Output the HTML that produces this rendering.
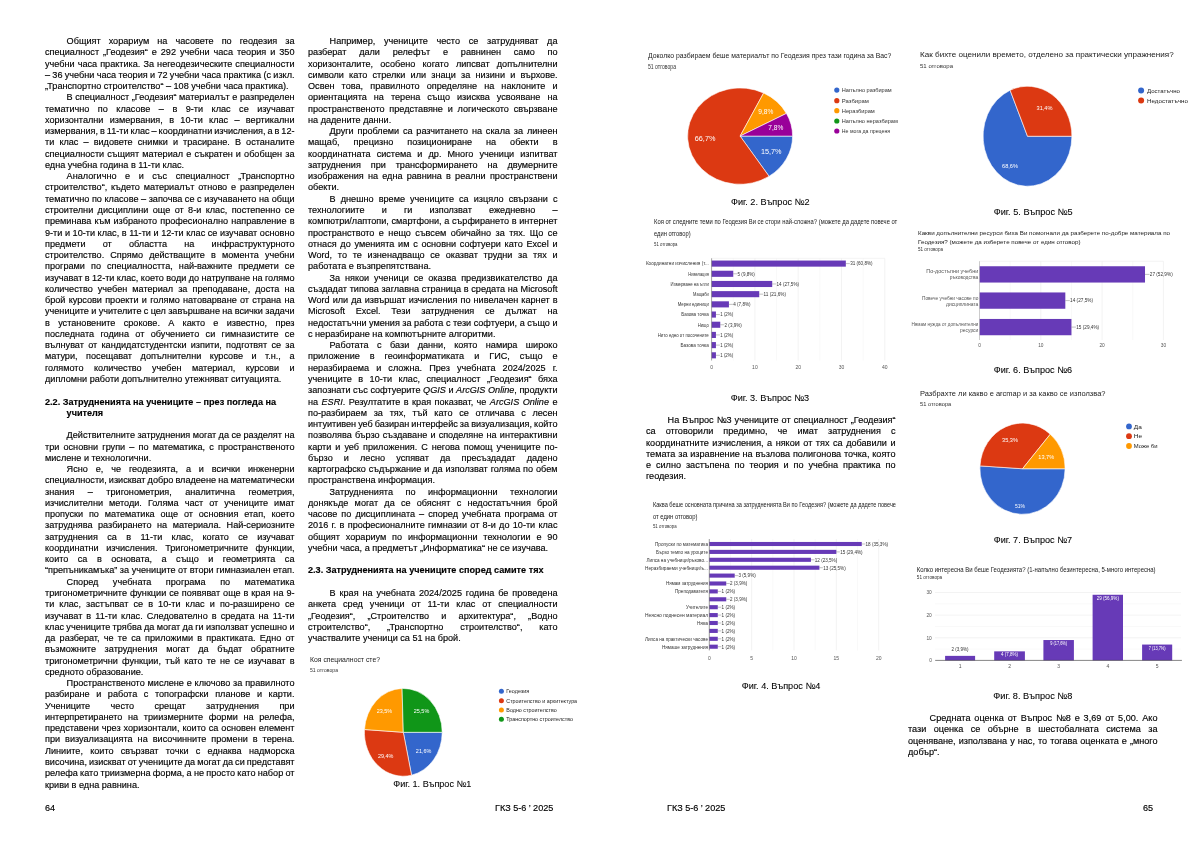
<!DOCTYPE html>
<html><head><meta charset="utf-8"><style>
html,body{margin:0;padding:0;background:#fff}
body{width:1200px;height:849px;position:relative;overflow:hidden;font-family:"Liberation Sans",sans-serif;color:#000;-webkit-text-stroke:0.15px #000}
.col{position:absolute;will-change:transform;width:249.5px;font-size:9.12px;line-height:11.28px}
.ln{height:11.28px;white-space:nowrap}
.b{font-weight:bold}
.t{position:absolute;will-change:transform;font-size:9.12px;line-height:11.28px;white-space:nowrap}
svg{position:absolute;left:0;top:0;-webkit-text-stroke:0;will-change:transform}
</style></head><body>
<div class="col" style="left:45.2px;top:35.9px">
<div class="ln" style="padding-left:21.6px;word-spacing:5.543px;">Общият хорариум на часовете по геодезия за</div>
<div class="ln" style="word-spacing:1.451px;">специалност „Геодезия“ е 292 учебни часа теория и 350</div>
<div class="ln" style="word-spacing:0.544px;">учебни часа практика. За негеодезическите специалности</div>
<div class="ln" style="word-spacing:-0.234px;">– 36 учебни часа теория и 72 учебни часа практика (с изкл.</div>
<div class="ln" style="">„Транспортно строителство“ – 108 учебни часа практика).</div>
<div class="ln" style="padding-left:21.6px;word-spacing:0.021px;">В специалност „Геодезия“ материалът е разпределен</div>
<div class="ln" style="word-spacing:5.959px;">тематично по класове – в 9-ти клас се изучават</div>
<div class="ln" style="word-spacing:3.812px;">хоризонтални измервания, в 10-ти клас – вертикални</div>
<div class="ln" style="word-spacing:-0.562px;">измервания, в 11-ти клас – координатни изчисления, а в 12-</div>
<div class="ln" style="word-spacing:2.584px;">ти клас – видовете снимки и трасиране. В останалите</div>
<div class="ln" style="word-spacing:0.585px;">специалности същият материал е съкратен и обобщен за</div>
<div class="ln" style="">една учебна година в 11-ти клас.</div>
<div class="ln" style="padding-left:21.6px;word-spacing:6.018px;">Аналогично е и със специалност „Транспортно</div>
<div class="ln" style="word-spacing:1.303px;">строителство“, където материалът отново е разпределен</div>
<div class="ln" style="word-spacing:0.033px;">тематично по класове – започва се с изучаването на общи</div>
<div class="ln" style="word-spacing:1.871px;">строителни дисциплини още от 8-и клас, постепенно се</div>
<div class="ln" style="word-spacing:0.600px;">преминава към избраното професионално направление в</div>
<div class="ln" style="word-spacing:0.047px;">9-ти и 10-ти клас, в 11-ти и 12-ти клас се изучават основно</div>
<div class="ln" style="word-spacing:14.688px;">предмети от областта на инфраструктурното</div>
<div class="ln" style="word-spacing:3.591px;">строителство. Спрямо действащите в момента учебни</div>
<div class="ln" style="word-spacing:3.556px;">програми по специалността, най-важните предмети се</div>
<div class="ln" style="word-spacing:-0.104px;">изучават в 12-ти клас, което води до натрупване на голямо</div>
<div class="ln" style="word-spacing:2.542px;">количество учебен материал за преподаване, доста на</div>
<div class="ln" style="word-spacing:0.691px;">брой курсови проекти и голямо натоварване от страна на</div>
<div class="ln" style="word-spacing:-0.197px;">учениците и учителите с цел завършване на всички задачи</div>
<div class="ln" style="word-spacing:5.768px;">в установените срокове. А както е известно, през</div>
<div class="ln" style="word-spacing:3.846px;">последната година от обучението си гимназистите се</div>
<div class="ln" style="word-spacing:1.695px;">вълнуват от кандидатстудентски изпити, подготвят се за</div>
<div class="ln" style="word-spacing:6.005px;">матури, посещават допълнителни курсове и т.н., а</div>
<div class="ln" style="word-spacing:7.897px;">голямото количество учебен материал, курсови и</div>
<div class="ln" style="">дипломни работи допълнително утежняват ситуацията.</div>
<div class="ln"></div>
<div class="ln b" style="padding-left:0px">2.2. Затрудненията на учениците – през погледа на</div>
<div class="ln b" style="padding-left:21.6px">учителя</div>
<div class="ln"></div>
<div class="ln" style="padding-left:21.6px;word-spacing:-0.110px;">Действителните затруднения могат да се разделят на</div>
<div class="ln" style="word-spacing:1.621px;">три основни групи – по математика, с пространственото</div>
<div class="ln" style="">мислене и технологични.</div>
<div class="ln" style="padding-left:21.6px;word-spacing:5.361px;">Ясно е, че геодезията, а и всички инженерни</div>
<div class="ln" style="word-spacing:-0.400px;">специалности, изискват добро владеене на математически</div>
<div class="ln" style="word-spacing:10.953px;">знания – тригонометрия, аналитична геометрия,</div>
<div class="ln" style="word-spacing:3.456px;">изчислителни методи. Голяма част от учениците имат</div>
<div class="ln" style="word-spacing:3.315px;">пропуски по математика още от основния етап, което</div>
<div class="ln" style="word-spacing:2.988px;">затруднява разбирането на материала. Най-сериозните</div>
<div class="ln" style="word-spacing:6.844px;">затруднения са в 11-ти клас, когато се изучават</div>
<div class="ln" style="word-spacing:5.062px;">координатни изчисления. Тригонометричните функции,</div>
<div class="ln" style="word-spacing:6.908px;">които са в основата, а също и геометрията са</div>
<div class="ln" style="">“препъникамъка” за учениците от втори гимназиален етап.</div>
<div class="ln" style="padding-left:21.6px;word-spacing:11.920px;">Според учебната програма по математика</div>
<div class="ln" style="word-spacing:0.414px;">тригонометричните функции се появяват още в края на 9-</div>
<div class="ln" style="word-spacing:2.561px;">ти клас, застъпват се в 10-ти клас и по-разширено се</div>
<div class="ln" style="word-spacing:1.539px;">изучават в 11-ти клас. Следователно в средата на 11-ти</div>
<div class="ln" style="word-spacing:-0.201px;">клас учениците трябва да могат да ги използват успешно и</div>
<div class="ln" style="word-spacing:1.707px;">да разберат, че те са приложими в практиката. Едно от</div>
<div class="ln" style="word-spacing:6.097px;">възможните затруднения могат да бъдат обратните</div>
<div class="ln" style="word-spacing:1.674px;">тригонометрични функции, тъй като те не се изучават в</div>
<div class="ln" style="">средното образование.</div>
<div class="ln" style="padding-left:21.6px;word-spacing:0.283px;">Пространственото мислене е ключово за правилното</div>
<div class="ln" style="word-spacing:4.031px;">разбиране и работа с топографски планове и карти.</div>
<div class="ln" style="word-spacing:17.875px;">Учениците често срещат затруднения при</div>
<div class="ln" style="word-spacing:3.144px;">интерпретирането на триизмерните форми на релефа,</div>
<div class="ln" style="word-spacing:0.419px;">представени чрез хоризонтали, които са основен елемент</div>
<div class="ln" style="word-spacing:2.461px;">при визуализацията на височинните промени в терена.</div>
<div class="ln" style="word-spacing:4.716px;">Линиите, които свързват точки с еднаква надморска</div>
<div class="ln" style="word-spacing:-0.488px;">височина, изискват от учениците да могат да си представят</div>
<div class="ln" style="word-spacing:-0.267px;">релефа като триизмерна форма, а не просто като набор от</div>
<div class="ln" style="">криви в една равнина.</div>
</div>
<div class="col" style="left:307.9px;top:35.9px">
<div class="ln" style="padding-left:21.6px;word-spacing:6.133px;">Например, учениците често се затрудняват да</div>
<div class="ln" style="word-spacing:10.221px;">разберат дали релефът е равнинен само по</div>
<div class="ln" style="word-spacing:4.648px;">хоризонталите, особено когато липсват допълнителни</div>
<div class="ln" style="word-spacing:2.656px;">символи като стрелки или знаци за низини и върхове.</div>
<div class="ln" style="word-spacing:4.594px;">Освен това, правилното определяне на наклоните и</div>
<div class="ln" style="word-spacing:4.479px;">ориентацията на терена също изисква усвояване на</div>
<div class="ln" style="word-spacing:2.238px;">пространственото представяне и логическото свързване</div>
<div class="ln" style="">на дадените данни.</div>
<div class="ln" style="padding-left:21.6px;word-spacing:1.274px;">Други проблеми са разчитането на скала за линеен</div>
<div class="ln" style="word-spacing:11.428px;">мащаб, прецизно позициониране на обекти в</div>
<div class="ln" style="word-spacing:3.526px;">координатната система и др. Много ученици изпитват</div>
<div class="ln" style="word-spacing:7.324px;">затруднения при трансформирането на двумерните</div>
<div class="ln" style="word-spacing:1.646px;">изображения на една равнина в реални пространствени</div>
<div class="ln" style="">обекти.</div>
<div class="ln" style="padding-left:21.6px;word-spacing:2.553px;">В днешно време учениците са изцяло свързани с</div>
<div class="ln" style="word-spacing:14.631px;">технологиите и ги използват ежедневно –</div>
<div class="ln" style="word-spacing:0.144px;">компютри/лаптопи, смартфони, а сърфирането в интернет</div>
<div class="ln" style="word-spacing:1.912px;">пространството е нещо съвсем обичайно за тях. Що се</div>
<div class="ln" style="word-spacing:1.182px;">отнася до уменията им с основни софтуери като Excel и</div>
<div class="ln" style="word-spacing:3.186px;">Word, то те изненадващо се оказват трудни за тях и</div>
<div class="ln" style="">работата е възпрепятствана.</div>
<div class="ln" style="padding-left:21.6px;word-spacing:2.306px;">За някои ученици се оказва предизвикателство да</div>
<div class="ln" style="word-spacing:0.161px;">създадат типова заглавна страница в средата на Microsoft</div>
<div class="ln" style="word-spacing:0.539px;">Word или да извършат изчисления по нивелачен карнет в</div>
<div class="ln" style="word-spacing:8.250px;">Microsoft Excel. Тези затруднения се дължат на</div>
<div class="ln" style="word-spacing:-0.036px;">недостатъчни умения за работа с тези софтуери, а също и</div>
<div class="ln" style="">с неразбиране на компютърните алгоритми.</div>
<div class="ln" style="padding-left:21.6px;word-spacing:5.895px;">Работата с бази данни, която намира широко</div>
<div class="ln" style="word-spacing:7.438px;">приложение в геоинформатиката и ГИС, също е</div>
<div class="ln" style="word-spacing:4.594px;">неразбираема и сложна. През учебната 2024/2025 г.</div>
<div class="ln" style="word-spacing:3.888px;">учениците в 10-ти клас, специалност „Геодезия“ бяха</div>
<div class="ln" style="word-spacing:0.027px;">запознати със софтуерите <i>QGIS</i> и <i>ArcGIS Online</i>, продукти</div>
<div class="ln" style="word-spacing:0.899px;">на <i>ESRI</i>. Резултатите в края показват, че <i>ArcGIS Online</i> е</div>
<div class="ln" style="word-spacing:4.213px;">по-разбираем за тях, тъй като се отличава с лесен</div>
<div class="ln" style="word-spacing:-0.490px;">интуитивен уеб базиран интерфейс за визуализация, който</div>
<div class="ln" style="word-spacing:0.617px;">позволява бързо създаване и споделяне на интерактивни</div>
<div class="ln" style="word-spacing:1.436px;">карти и уеб приложения. С негова помощ учениците по-</div>
<div class="ln" style="word-spacing:8.594px;">бързо и лесно успяват да пресъздадат дадено</div>
<div class="ln" style="word-spacing:0.359px;">картографско съдържание и да използват голяма по обем</div>
<div class="ln" style="">пространствена информация.</div>
<div class="ln" style="padding-left:21.6px;word-spacing:9.993px;">Затрудненията по информационни технологии</div>
<div class="ln" style="word-spacing:3.679px;">донякъде могат да се обяснят с недостатъчния брой</div>
<div class="ln" style="word-spacing:1.504px;">часове по дисциплината – според учебната програма от</div>
<div class="ln" style="word-spacing:0.753px;">2016 г. в професионалните гимназии от 8-и до 10-ти клас</div>
<div class="ln" style="word-spacing:3.276px;">общият хорариум по информационни технологии е 90</div>
<div class="ln" style="">учебни часа, а предметът „Информатика“ не се изучава.</div>
<div class="ln"></div>
<div class="ln b" style="padding-left:0px">2.3. Затрудненията на учениците според самите тях</div>
<div class="ln"></div>
<div class="ln" style="padding-left:21.6px;word-spacing:1.365px;">В края на учебната 2024/2025 година бе проведена</div>
<div class="ln" style="word-spacing:4.442px;">анкета сред ученици от 11-ти клас от специалности</div>
<div class="ln" style="word-spacing:9.664px;">„Геодезия“, „Строителство и архитектура“, „Водно</div>
<div class="ln" style="word-spacing:14.370px;">строителство“, „Транспортно строителство“, като</div>
<div class="ln" style="">участвалите ученици са 51 на брой.</div>
</div>
<div class="col" style="left:645.5px;top:414.8px">
<div class="ln" style="padding-left:21.6px;word-spacing:0.517px;">На Въпрос №3 учениците от специалност „Геодезия“</div>
<div class="ln" style="word-spacing:7.547px;">са отговорили предимно, че имат затруднения с</div>
<div class="ln" style="word-spacing:0.957px;">координатните изчисления, а някои от тях са добавили и</div>
<div class="ln" style="word-spacing:0.279px;">темата за изравнение на възлова полигонова точка, която</div>
<div class="ln" style="word-spacing:2.358px;">е силно застъпена по теория и по учебна практика по</div>
<div class="ln" style="">геодезия.</div>
</div>
<div class="col" style="left:907.9px;top:713.45px">
<div class="ln" style="padding-left:21.6px;word-spacing:1.348px;">Средната оценка от Въпрос №8 е 3,69 от 5,00. Ако</div>
<div class="ln" style="word-spacing:4.893px;">тази оценка се обърне в шестобалната система за</div>
<div class="ln" style="word-spacing:0.504px;">оценяване, използвана у нас, то тогава оценката е „много</div>
<div class="ln" style="">добър“.</div>
</div>
<div class="t" style="left:45.2px;top:803.1px">64</div>
<div class="t" style="left:494.5px;top:803.4000000000001px">ГКЗ 5-6 ’ 2025</div>
<div class="t" style="left:667.4px;top:803.4000000000001px">ГКЗ 5-6 ’ 2025</div>
<div class="t" style="left:1142.6px;top:803.1px">65</div>
<svg width="1200" height="849" viewBox="0 0 1200 849" font-family="Liberation Sans"><text x="310.00" y="662.00" font-size="7.5" fill="#1a1a1a" text-anchor="start" font-weight="normal" textLength="70.00" lengthAdjust="spacingAndGlyphs">Коя специалност сте?</text>
<text x="310.00" y="671.70" font-size="5.8" fill="#333333" text-anchor="start" font-weight="normal" textLength="28.00" lengthAdjust="spacingAndGlyphs">51 отговора</text>
<path d="M403.30,732.30 L442.20,732.30 A38.90,43.90 0 0 1 411.55,775.20 Z" fill="#3366cc" stroke="#fff" stroke-width="0.6" stroke-linejoin="round"/>
<path d="M403.30,732.30 L411.55,775.20 A38.90,43.90 0 0 1 364.48,729.54 Z" fill="#dc3912" stroke="#fff" stroke-width="0.6" stroke-linejoin="round"/>
<path d="M403.30,732.30 L364.48,729.54 A38.90,43.90 0 0 1 402.08,688.42 Z" fill="#ff9900" stroke="#fff" stroke-width="0.6" stroke-linejoin="round"/>
<path d="M403.30,732.30 L402.08,688.42 A38.90,43.90 0 0 1 442.20,732.30 Z" fill="#109618" stroke="#fff" stroke-width="0.6" stroke-linejoin="round"/>
<text x="421.50" y="713.30" font-size="5.2" fill="#fff" text-anchor="middle" font-weight="normal" textLength="15.50" lengthAdjust="spacingAndGlyphs">25,5%</text>
<text x="384.40" y="713.30" font-size="5.2" fill="#fff" text-anchor="middle" font-weight="normal" textLength="15.50" lengthAdjust="spacingAndGlyphs">23,5%</text>
<text x="385.70" y="757.80" font-size="5.2" fill="#fff" text-anchor="middle" font-weight="normal" textLength="15.50" lengthAdjust="spacingAndGlyphs">29,4%</text>
<text x="423.60" y="753.00" font-size="5.2" fill="#fff" text-anchor="middle" font-weight="normal" textLength="15.50" lengthAdjust="spacingAndGlyphs">21,6%</text>
<circle cx="501.40" cy="691.25" r="2.5" fill="#3366cc"/>
<text x="506.30" y="693.45" font-size="6.2" fill="#222" text-anchor="start" font-weight="normal" textLength="22.90" lengthAdjust="spacingAndGlyphs">Геодезия</text>
<circle cx="501.40" cy="700.80" r="2.5" fill="#dc3912"/>
<text x="506.30" y="703.00" font-size="6.2" fill="#222" text-anchor="start" font-weight="normal" textLength="70.80" lengthAdjust="spacingAndGlyphs">Строителство и архитектура</text>
<circle cx="501.40" cy="710.00" r="2.5" fill="#ff9900"/>
<text x="506.30" y="712.20" font-size="6.2" fill="#222" text-anchor="start" font-weight="normal" textLength="50.40" lengthAdjust="spacingAndGlyphs">Водно строителство</text>
<circle cx="501.40" cy="719.20" r="2.5" fill="#109618"/>
<text x="506.30" y="721.40" font-size="6.2" fill="#222" text-anchor="start" font-weight="normal" textLength="66.70" lengthAdjust="spacingAndGlyphs">Транспортно строителство</text>
<text x="393.30" y="787.20" font-size="9.12" fill="#000" text-anchor="start" font-weight="normal" textLength="78.00" lengthAdjust="spacingAndGlyphs" stroke="#000" stroke-width="0.08">Фиг. 1. Въпрос №1</text>
<text x="648.00" y="57.50" font-size="8.0" fill="#1a1a1a" text-anchor="start" font-weight="normal" textLength="243.30" lengthAdjust="spacingAndGlyphs">Доколко разбираем беше материалът по Геодезия през тази година за Вас?</text>
<text x="648.00" y="68.60" font-size="6.8" fill="#333333" text-anchor="start" font-weight="normal" textLength="28.00" lengthAdjust="spacingAndGlyphs">51 отговора</text>
<path d="M740.10,136.10 L792.60,136.10 A52.50,48.20 0 0 1 769.06,176.30 Z" fill="#3366cc" stroke="#fff" stroke-width="0.6" stroke-linejoin="round"/>
<path d="M740.10,136.10 L769.06,176.30 A52.50,48.20 0 1 1 763.64,93.02 Z" fill="#dc3912" stroke="#fff" stroke-width="0.6" stroke-linejoin="round"/>
<path d="M740.10,136.10 L763.64,93.02 A52.50,48.20 0 0 1 786.42,113.41 Z" fill="#ff9900" stroke="#fff" stroke-width="0.6" stroke-linejoin="round"/>
<path d="M740.10,136.10 L786.42,113.41 A52.50,48.20 0 0 1 792.60,136.10 Z" fill="#990099" stroke="#fff" stroke-width="0.6" stroke-linejoin="round"/>
<text x="765.80" y="113.50" font-size="6.6" fill="#fff" text-anchor="middle" font-weight="normal" textLength="15.00" lengthAdjust="spacingAndGlyphs">9,8%</text>
<text x="775.80" y="130.30" font-size="6.6" fill="#fff" text-anchor="middle" font-weight="normal" textLength="15.00" lengthAdjust="spacingAndGlyphs">7,8%</text>
<text x="705.10" y="140.80" font-size="6.6" fill="#fff" text-anchor="middle" font-weight="normal" textLength="20.60" lengthAdjust="spacingAndGlyphs">66,7%</text>
<text x="771.20" y="153.80" font-size="6.6" fill="#fff" text-anchor="middle" font-weight="normal" textLength="20.60" lengthAdjust="spacingAndGlyphs">15,7%</text>
<circle cx="836.80" cy="90.10" r="2.6" fill="#3366cc"/>
<text x="841.80" y="92.20" font-size="5.8" fill="#333" text-anchor="start" font-weight="normal" textLength="49.90" lengthAdjust="spacingAndGlyphs">Напълно разбирам</text>
<circle cx="836.80" cy="100.70" r="2.6" fill="#dc3912"/>
<text x="841.80" y="102.80" font-size="5.8" fill="#333" text-anchor="start" font-weight="normal" textLength="27.10" lengthAdjust="spacingAndGlyphs">Разбирам</text>
<circle cx="836.80" cy="110.70" r="2.6" fill="#ff9900"/>
<text x="841.80" y="112.80" font-size="5.8" fill="#333" text-anchor="start" font-weight="normal" textLength="33.00" lengthAdjust="spacingAndGlyphs">Неразбирам</text>
<circle cx="836.80" cy="121.00" r="2.6" fill="#109618"/>
<text x="841.80" y="123.10" font-size="5.8" fill="#333" text-anchor="start" font-weight="normal" textLength="56.00" lengthAdjust="spacingAndGlyphs">Напълно неразбирам</text>
<circle cx="836.80" cy="131.00" r="2.6" fill="#990099"/>
<text x="841.80" y="133.10" font-size="5.8" fill="#333" text-anchor="start" font-weight="normal" textLength="48.30" lengthAdjust="spacingAndGlyphs">Не мога да преценя</text>
<text x="731.00" y="204.80" font-size="9.12" fill="#000" text-anchor="start" font-weight="normal" textLength="78.50" lengthAdjust="spacingAndGlyphs" stroke="#000" stroke-width="0.08">Фиг. 2. Въпрос №2</text>
<text x="654.00" y="224.10" font-size="6.4" fill="#1a1a1a" text-anchor="start" font-weight="normal" textLength="243.30" lengthAdjust="spacingAndGlyphs">Коя от следните теми по Геодезия Ви се стори най-сложна? (можете да дадете повече от</text>
<text x="654.00" y="235.80" font-size="6.4" fill="#1a1a1a" text-anchor="start" font-weight="normal" textLength="36.60" lengthAdjust="spacingAndGlyphs">един отговор)</text>
<text x="654.00" y="246.00" font-size="5.0" fill="#333333" text-anchor="start" font-weight="normal" textLength="23.50" lengthAdjust="spacingAndGlyphs">51 отговора</text>
<line x1="733.25" y1="258.30" x2="733.25" y2="360.50" stroke="#f3f3f3" stroke-width="0.5"/>
<line x1="776.55" y1="258.30" x2="776.55" y2="360.50" stroke="#f3f3f3" stroke-width="0.5"/>
<line x1="819.85" y1="258.30" x2="819.85" y2="360.50" stroke="#f3f3f3" stroke-width="0.5"/>
<line x1="863.15" y1="258.30" x2="863.15" y2="360.50" stroke="#f3f3f3" stroke-width="0.5"/>
<line x1="754.90" y1="258.30" x2="754.90" y2="360.50" stroke="#e6e6e6" stroke-width="0.5"/>
<line x1="798.20" y1="258.30" x2="798.20" y2="360.50" stroke="#e6e6e6" stroke-width="0.5"/>
<line x1="841.50" y1="258.30" x2="841.50" y2="360.50" stroke="#e6e6e6" stroke-width="0.5"/>
<line x1="884.80" y1="258.30" x2="884.80" y2="360.50" stroke="#e6e6e6" stroke-width="0.5"/>
<line x1="711.60" y1="258.30" x2="884.80" y2="258.30" stroke="#e6e6e6" stroke-width="0.5"/>
<rect x="711.60" y="260.55" width="134.23" height="6.10" fill="#673ab7"/>
<line x1="845.83" y1="263.60" x2="849.83" y2="263.60" stroke="#666" stroke-width="0.4"/>
<text x="850.13" y="265.40" font-size="5.2" fill="#333" text-anchor="start" font-weight="normal" textLength="22.50" lengthAdjust="spacingAndGlyphs">31 (60,8%)</text>
<text x="645.90" y="265.40" font-size="5.2" fill="#333" text-anchor="start" font-weight="normal" textLength="62.90" lengthAdjust="spacingAndGlyphs">Координатни изчисления (т...</text>
<rect x="711.60" y="270.74" width="21.65" height="6.10" fill="#673ab7"/>
<line x1="733.25" y1="273.79" x2="737.25" y2="273.79" stroke="#666" stroke-width="0.4"/>
<text x="737.55" y="275.59" font-size="5.2" fill="#333" text-anchor="start" font-weight="normal" textLength="17.30" lengthAdjust="spacingAndGlyphs">5 (9,8%)</text>
<text x="688.30" y="275.59" font-size="5.2" fill="#333" text-anchor="start" font-weight="normal" textLength="20.50" lengthAdjust="spacingAndGlyphs">Нивелация</text>
<rect x="711.60" y="280.93" width="60.62" height="6.10" fill="#673ab7"/>
<line x1="772.22" y1="283.98" x2="776.22" y2="283.98" stroke="#666" stroke-width="0.4"/>
<text x="776.52" y="285.78" font-size="5.2" fill="#333" text-anchor="start" font-weight="normal" textLength="22.50" lengthAdjust="spacingAndGlyphs">14 (27,5%)</text>
<text x="670.60" y="285.78" font-size="5.2" fill="#333" text-anchor="start" font-weight="normal" textLength="38.20" lengthAdjust="spacingAndGlyphs">Измерване на ъгли</text>
<rect x="711.60" y="291.12" width="47.63" height="6.10" fill="#673ab7"/>
<line x1="759.23" y1="294.17" x2="763.23" y2="294.17" stroke="#666" stroke-width="0.4"/>
<text x="763.53" y="295.97" font-size="5.2" fill="#333" text-anchor="start" font-weight="normal" textLength="22.50" lengthAdjust="spacingAndGlyphs">11 (21,6%)</text>
<text x="693.00" y="295.97" font-size="5.2" fill="#333" text-anchor="start" font-weight="normal" textLength="15.80" lengthAdjust="spacingAndGlyphs">Мащаби</text>
<rect x="711.60" y="301.31" width="17.32" height="6.10" fill="#673ab7"/>
<line x1="728.92" y1="304.36" x2="732.92" y2="304.36" stroke="#666" stroke-width="0.4"/>
<text x="733.22" y="306.16" font-size="5.2" fill="#333" text-anchor="start" font-weight="normal" textLength="17.30" lengthAdjust="spacingAndGlyphs">4 (7,8%)</text>
<text x="677.70" y="306.16" font-size="5.2" fill="#333" text-anchor="start" font-weight="normal" textLength="31.10" lengthAdjust="spacingAndGlyphs">Мерни единици</text>
<rect x="711.60" y="311.50" width="4.33" height="6.10" fill="#673ab7"/>
<line x1="715.93" y1="314.55" x2="719.93" y2="314.55" stroke="#666" stroke-width="0.4"/>
<text x="720.23" y="316.35" font-size="5.2" fill="#333" text-anchor="start" font-weight="normal" textLength="13.00" lengthAdjust="spacingAndGlyphs">1 (2%)</text>
<text x="681.20" y="316.35" font-size="5.2" fill="#333" text-anchor="start" font-weight="normal" textLength="27.60" lengthAdjust="spacingAndGlyphs">Базова точка</text>
<rect x="711.60" y="321.69" width="8.66" height="6.10" fill="#673ab7"/>
<line x1="720.26" y1="324.74" x2="724.26" y2="324.74" stroke="#666" stroke-width="0.4"/>
<text x="724.56" y="326.54" font-size="5.2" fill="#333" text-anchor="start" font-weight="normal" textLength="17.30" lengthAdjust="spacingAndGlyphs">2 (3,9%)</text>
<text x="697.70" y="326.54" font-size="5.2" fill="#333" text-anchor="start" font-weight="normal" textLength="11.10" lengthAdjust="spacingAndGlyphs">Нищо</text>
<rect x="711.60" y="331.88" width="4.33" height="6.10" fill="#673ab7"/>
<line x1="715.93" y1="334.93" x2="719.93" y2="334.93" stroke="#666" stroke-width="0.4"/>
<text x="720.23" y="336.73" font-size="5.2" fill="#333" text-anchor="start" font-weight="normal" textLength="13.00" lengthAdjust="spacingAndGlyphs">1 (2%)</text>
<text x="657.70" y="336.73" font-size="5.2" fill="#333" text-anchor="start" font-weight="normal" textLength="51.10" lengthAdjust="spacingAndGlyphs">Нито едно от посочените</text>
<rect x="711.60" y="342.07" width="4.33" height="6.10" fill="#673ab7"/>
<line x1="715.93" y1="345.12" x2="719.93" y2="345.12" stroke="#666" stroke-width="0.4"/>
<text x="720.23" y="346.92" font-size="5.2" fill="#333" text-anchor="start" font-weight="normal" textLength="13.00" lengthAdjust="spacingAndGlyphs">1 (2%)</text>
<text x="680.50" y="346.92" font-size="5.2" fill="#333" text-anchor="start" font-weight="normal" textLength="28.30" lengthAdjust="spacingAndGlyphs">Базова точка</text>
<rect x="711.60" y="352.26" width="4.33" height="6.10" fill="#673ab7"/>
<line x1="715.93" y1="355.31" x2="719.93" y2="355.31" stroke="#666" stroke-width="0.4"/>
<text x="720.23" y="357.11" font-size="5.2" fill="#333" text-anchor="start" font-weight="normal" textLength="13.00" lengthAdjust="spacingAndGlyphs">1 (2%)</text>
<line x1="711.60" y1="258.30" x2="711.60" y2="360.50" stroke="#666" stroke-width="0.6"/>
<text x="711.60" y="369.00" font-size="5.0" fill="#555" text-anchor="middle" font-weight="normal">0</text>
<text x="754.90" y="369.00" font-size="5.0" fill="#555" text-anchor="middle" font-weight="normal">10</text>
<text x="798.20" y="369.00" font-size="5.0" fill="#555" text-anchor="middle" font-weight="normal">20</text>
<text x="841.50" y="369.00" font-size="5.0" fill="#555" text-anchor="middle" font-weight="normal">30</text>
<text x="884.80" y="369.00" font-size="5.0" fill="#555" text-anchor="middle" font-weight="normal">40</text>
<text x="730.70" y="400.80" font-size="9.12" fill="#000" text-anchor="start" font-weight="normal" textLength="78.40" lengthAdjust="spacingAndGlyphs" stroke="#000" stroke-width="0.08">Фиг. 3. Въпрос №3</text>
<text x="652.90" y="507.30" font-size="6.4" fill="#1a1a1a" text-anchor="start" font-weight="normal" textLength="243.10" lengthAdjust="spacingAndGlyphs">Каква беше основната причина за затрудненията Ви по Геодезия? (можете да дадете повече</text>
<text x="652.90" y="518.50" font-size="6.4" fill="#1a1a1a" text-anchor="start" font-weight="normal" textLength="44.50" lengthAdjust="spacingAndGlyphs">от един отговор)</text>
<text x="652.90" y="527.60" font-size="5.0" fill="#333333" text-anchor="start" font-weight="normal" textLength="23.70" lengthAdjust="spacingAndGlyphs">51 отговора</text>
<line x1="751.65" y1="539.00" x2="751.65" y2="650.40" stroke="#e6e6e6" stroke-width="0.5"/>
<line x1="794.00" y1="539.00" x2="794.00" y2="650.40" stroke="#e6e6e6" stroke-width="0.5"/>
<line x1="836.35" y1="539.00" x2="836.35" y2="650.40" stroke="#e6e6e6" stroke-width="0.5"/>
<line x1="878.70" y1="539.00" x2="878.70" y2="650.40" stroke="#e6e6e6" stroke-width="0.5"/>
<line x1="730.47" y1="539.00" x2="730.47" y2="650.40" stroke="#f3f3f3" stroke-width="0.5"/>
<line x1="772.82" y1="539.00" x2="772.82" y2="650.40" stroke="#f3f3f3" stroke-width="0.5"/>
<line x1="815.17" y1="539.00" x2="815.17" y2="650.40" stroke="#f3f3f3" stroke-width="0.5"/>
<line x1="857.52" y1="539.00" x2="857.52" y2="650.40" stroke="#f3f3f3" stroke-width="0.5"/>
<rect x="709.30" y="541.95" width="152.46" height="4.10" fill="#673ab7"/>
<line x1="861.76" y1="544.00" x2="865.26" y2="544.00" stroke="#666" stroke-width="0.4"/>
<text x="865.56" y="545.80" font-size="5.0" fill="#333" text-anchor="start" font-weight="normal" textLength="22.50" lengthAdjust="spacingAndGlyphs">18 (35,3%)</text>
<text x="655.00" y="545.80" font-size="5.0" fill="#333" text-anchor="start" font-weight="normal" textLength="53.00" lengthAdjust="spacingAndGlyphs">Пропуски по математика</text>
<rect x="709.30" y="549.85" width="127.05" height="4.10" fill="#673ab7"/>
<line x1="836.35" y1="551.90" x2="839.85" y2="551.90" stroke="#666" stroke-width="0.4"/>
<text x="840.15" y="553.70" font-size="5.0" fill="#333" text-anchor="start" font-weight="normal" textLength="22.50" lengthAdjust="spacingAndGlyphs">15 (29,4%)</text>
<text x="656.00" y="553.70" font-size="5.0" fill="#333" text-anchor="start" font-weight="normal" textLength="52.00" lengthAdjust="spacingAndGlyphs">Бързо темпо на уроците</text>
<rect x="709.30" y="557.75" width="101.64" height="4.10" fill="#673ab7"/>
<line x1="810.94" y1="559.80" x2="814.44" y2="559.80" stroke="#666" stroke-width="0.4"/>
<text x="814.74" y="561.60" font-size="5.0" fill="#333" text-anchor="start" font-weight="normal" textLength="22.50" lengthAdjust="spacingAndGlyphs">12 (23,5%)</text>
<text x="646.50" y="561.60" font-size="5.0" fill="#333" text-anchor="start" font-weight="normal" textLength="61.50" lengthAdjust="spacingAndGlyphs">Липса на учебници/ръково...</text>
<rect x="709.30" y="565.65" width="110.11" height="4.10" fill="#673ab7"/>
<line x1="819.41" y1="567.70" x2="822.91" y2="567.70" stroke="#666" stroke-width="0.4"/>
<text x="823.21" y="569.50" font-size="5.0" fill="#333" text-anchor="start" font-weight="normal" textLength="22.50" lengthAdjust="spacingAndGlyphs">13 (25,5%)</text>
<text x="645.00" y="569.50" font-size="5.0" fill="#333" text-anchor="start" font-weight="normal" textLength="63.00" lengthAdjust="spacingAndGlyphs">Неразбираеми учебници/ъ...</text>
<rect x="709.30" y="573.55" width="25.41" height="4.10" fill="#673ab7"/>
<line x1="734.71" y1="575.60" x2="738.21" y2="575.60" stroke="#666" stroke-width="0.4"/>
<text x="738.51" y="577.40" font-size="5.0" fill="#333" text-anchor="start" font-weight="normal" textLength="17.20" lengthAdjust="spacingAndGlyphs">3 (5,9%)</text>
<rect x="709.30" y="581.45" width="16.94" height="4.10" fill="#673ab7"/>
<line x1="726.24" y1="583.50" x2="729.74" y2="583.50" stroke="#666" stroke-width="0.4"/>
<text x="730.04" y="585.30" font-size="5.0" fill="#333" text-anchor="start" font-weight="normal" textLength="17.20" lengthAdjust="spacingAndGlyphs">2 (3,9%)</text>
<text x="666.00" y="585.30" font-size="5.0" fill="#333" text-anchor="start" font-weight="normal" textLength="42.00" lengthAdjust="spacingAndGlyphs">Нямам затруднения</text>
<rect x="709.30" y="589.35" width="8.47" height="4.10" fill="#673ab7"/>
<line x1="717.77" y1="591.40" x2="721.27" y2="591.40" stroke="#666" stroke-width="0.4"/>
<text x="721.57" y="593.20" font-size="5.0" fill="#333" text-anchor="start" font-weight="normal" textLength="13.50" lengthAdjust="spacingAndGlyphs">1 (2%)</text>
<text x="675.00" y="593.20" font-size="5.0" fill="#333" text-anchor="start" font-weight="normal" textLength="33.00" lengthAdjust="spacingAndGlyphs">Преподавателя</text>
<rect x="709.30" y="597.25" width="16.94" height="4.10" fill="#673ab7"/>
<line x1="726.24" y1="599.30" x2="729.74" y2="599.30" stroke="#666" stroke-width="0.4"/>
<text x="730.04" y="601.10" font-size="5.0" fill="#333" text-anchor="start" font-weight="normal" textLength="17.20" lengthAdjust="spacingAndGlyphs">2 (3,9%)</text>
<rect x="709.30" y="605.15" width="8.47" height="4.10" fill="#673ab7"/>
<line x1="717.77" y1="607.20" x2="721.27" y2="607.20" stroke="#666" stroke-width="0.4"/>
<text x="721.57" y="609.00" font-size="5.0" fill="#333" text-anchor="start" font-weight="normal" textLength="13.50" lengthAdjust="spacingAndGlyphs">1 (2%)</text>
<text x="686.00" y="609.00" font-size="5.0" fill="#333" text-anchor="start" font-weight="normal" textLength="22.00" lengthAdjust="spacingAndGlyphs">Учителите</text>
<rect x="709.30" y="613.05" width="8.47" height="4.10" fill="#673ab7"/>
<line x1="717.77" y1="615.10" x2="721.27" y2="615.10" stroke="#666" stroke-width="0.4"/>
<text x="721.57" y="616.90" font-size="5.0" fill="#333" text-anchor="start" font-weight="normal" textLength="13.50" lengthAdjust="spacingAndGlyphs">1 (2%)</text>
<text x="645.00" y="616.90" font-size="5.0" fill="#333" text-anchor="start" font-weight="normal" textLength="63.00" lengthAdjust="spacingAndGlyphs">Неясно поднесен материал</text>
<rect x="709.30" y="620.95" width="8.47" height="4.10" fill="#673ab7"/>
<line x1="717.77" y1="623.00" x2="721.27" y2="623.00" stroke="#666" stroke-width="0.4"/>
<text x="721.57" y="624.80" font-size="5.0" fill="#333" text-anchor="start" font-weight="normal" textLength="13.50" lengthAdjust="spacingAndGlyphs">1 (2%)</text>
<text x="697.00" y="624.80" font-size="5.0" fill="#333" text-anchor="start" font-weight="normal" textLength="11.00" lengthAdjust="spacingAndGlyphs">Няма</text>
<rect x="709.30" y="628.85" width="8.47" height="4.10" fill="#673ab7"/>
<line x1="717.77" y1="630.90" x2="721.27" y2="630.90" stroke="#666" stroke-width="0.4"/>
<text x="721.57" y="632.70" font-size="5.0" fill="#333" text-anchor="start" font-weight="normal" textLength="13.50" lengthAdjust="spacingAndGlyphs">1 (2%)</text>
<rect x="709.30" y="636.75" width="8.47" height="4.10" fill="#673ab7"/>
<line x1="717.77" y1="638.80" x2="721.27" y2="638.80" stroke="#666" stroke-width="0.4"/>
<text x="721.57" y="640.60" font-size="5.0" fill="#333" text-anchor="start" font-weight="normal" textLength="13.50" lengthAdjust="spacingAndGlyphs">1 (2%)</text>
<text x="645.00" y="640.60" font-size="5.0" fill="#333" text-anchor="start" font-weight="normal" textLength="63.00" lengthAdjust="spacingAndGlyphs">Липса на практически часове</text>
<rect x="709.30" y="644.65" width="8.47" height="4.10" fill="#673ab7"/>
<line x1="717.77" y1="646.70" x2="721.27" y2="646.70" stroke="#666" stroke-width="0.4"/>
<text x="721.57" y="648.50" font-size="5.0" fill="#333" text-anchor="start" font-weight="normal" textLength="13.50" lengthAdjust="spacingAndGlyphs">1 (2%)</text>
<text x="662.00" y="648.50" font-size="5.0" fill="#333" text-anchor="start" font-weight="normal" textLength="46.00" lengthAdjust="spacingAndGlyphs">Нямаше затруднения</text>
<line x1="709.30" y1="539.00" x2="709.30" y2="650.40" stroke="#555" stroke-width="0.6"/>
<text x="709.30" y="659.50" font-size="5.0" fill="#555" text-anchor="middle" font-weight="normal">0</text>
<text x="751.65" y="659.50" font-size="5.0" fill="#555" text-anchor="middle" font-weight="normal">5</text>
<text x="794.00" y="659.50" font-size="5.0" fill="#555" text-anchor="middle" font-weight="normal">10</text>
<text x="836.35" y="659.50" font-size="5.0" fill="#555" text-anchor="middle" font-weight="normal">15</text>
<text x="878.70" y="659.50" font-size="5.0" fill="#555" text-anchor="middle" font-weight="normal">20</text>
<text x="741.80" y="688.75" font-size="9.12" fill="#000" text-anchor="start" font-weight="normal" textLength="78.50" lengthAdjust="spacingAndGlyphs" stroke="#000" stroke-width="0.08">Фиг. 4. Въпрос №4</text>
<text x="920.00" y="57.00" font-size="7.5" fill="#1a1a1a" text-anchor="start" font-weight="normal" textLength="253.70" lengthAdjust="spacingAndGlyphs">Как бихте оценили времето, отделено за практически упражнения?</text>
<text x="920.00" y="68.00" font-size="6.0" fill="#333333" text-anchor="start" font-weight="normal" textLength="33.00" lengthAdjust="spacingAndGlyphs">51 отговора</text>
<path d="M1027.50,136.25 L1071.90,136.25 A44.40,50.00 0 1 1 1010.12,90.24 Z" fill="#3366cc" stroke="#fff" stroke-width="0.6" stroke-linejoin="round"/>
<path d="M1027.50,136.25 L1010.12,90.24 A44.40,50.00 0 0 1 1071.90,136.25 Z" fill="#dc3912" stroke="#fff" stroke-width="0.6" stroke-linejoin="round"/>
<text x="1044.50" y="110.00" font-size="5.4" fill="#fff" text-anchor="middle" font-weight="normal" textLength="16.00" lengthAdjust="spacingAndGlyphs">31,4%</text>
<text x="1010.00" y="167.50" font-size="5.4" fill="#fff" text-anchor="middle" font-weight="normal" textLength="16.00" lengthAdjust="spacingAndGlyphs">68,6%</text>
<circle cx="1141.10" cy="90.40" r="3.0" fill="#3366cc"/>
<text x="1147.00" y="92.60" font-size="6.2" fill="#222" text-anchor="start" font-weight="normal" textLength="33.00" lengthAdjust="spacingAndGlyphs">Достатъчно</text>
<circle cx="1141.10" cy="100.60" r="3.0" fill="#dc3912"/>
<text x="1147.00" y="102.80" font-size="6.2" fill="#222" text-anchor="start" font-weight="normal" textLength="41.00" lengthAdjust="spacingAndGlyphs">Недостатъчно</text>
<text x="993.75" y="215.00" font-size="9.12" fill="#000" text-anchor="start" font-weight="normal" textLength="78.75" lengthAdjust="spacingAndGlyphs" stroke="#000" stroke-width="0.08">Фиг. 5. Въпрос №5</text>
<text x="918.00" y="234.50" font-size="6.2" fill="#1a1a1a" text-anchor="start" font-weight="normal" textLength="252.00" lengthAdjust="spacingAndGlyphs">Какви допълнителни ресурси биха Ви помогнали да разберете по-добре материала по</text>
<text x="918.00" y="243.75" font-size="6.2" fill="#1a1a1a" text-anchor="start" font-weight="normal" textLength="162.50" lengthAdjust="spacingAndGlyphs">Геодезия? (можете да изберете повече от един отговор)</text>
<text x="918.00" y="251.25" font-size="4.8" fill="#333333" text-anchor="start" font-weight="normal" textLength="25.00" lengthAdjust="spacingAndGlyphs">51 отговора</text>
<line x1="1040.80" y1="261.25" x2="1040.80" y2="340.00" stroke="#e6e6e6" stroke-width="0.5"/>
<line x1="1102.10" y1="261.25" x2="1102.10" y2="340.00" stroke="#e6e6e6" stroke-width="0.5"/>
<line x1="1163.40" y1="261.25" x2="1163.40" y2="340.00" stroke="#e6e6e6" stroke-width="0.5"/>
<line x1="1010.15" y1="261.25" x2="1010.15" y2="340.00" stroke="#f3f3f3" stroke-width="0.5"/>
<line x1="1071.45" y1="261.25" x2="1071.45" y2="340.00" stroke="#f3f3f3" stroke-width="0.5"/>
<line x1="1132.75" y1="261.25" x2="1132.75" y2="340.00" stroke="#f3f3f3" stroke-width="0.5"/>
<line x1="979.50" y1="261.25" x2="1163.40" y2="261.25" stroke="#e6e6e6" stroke-width="0.5"/>
<rect x="979.50" y="266.25" width="165.51" height="16.30" fill="#673ab7"/>
<line x1="1145.01" y1="274.40" x2="1149.51" y2="274.40" stroke="#666" stroke-width="0.4"/>
<text x="1149.81" y="276.10" font-size="5.2" fill="#333" text-anchor="start" font-weight="normal" textLength="22.90" lengthAdjust="spacingAndGlyphs">27 (52,9%)</text>
<text x="926.30" y="272.90" font-size="4.9" fill="#555" text-anchor="start" font-weight="normal" textLength="52.00" lengthAdjust="spacingAndGlyphs">По-достъпни учебни</text>
<text x="949.80" y="279.10" font-size="4.9" fill="#555" text-anchor="start" font-weight="normal" textLength="28.50" lengthAdjust="spacingAndGlyphs">ръководства</text>
<rect x="979.50" y="292.45" width="85.82" height="16.30" fill="#673ab7"/>
<line x1="1065.32" y1="300.60" x2="1069.82" y2="300.60" stroke="#666" stroke-width="0.4"/>
<text x="1070.12" y="302.30" font-size="5.2" fill="#333" text-anchor="start" font-weight="normal" textLength="22.90" lengthAdjust="spacingAndGlyphs">14 (27,5%)</text>
<text x="922.00" y="299.50" font-size="4.9" fill="#555" text-anchor="start" font-weight="normal" textLength="56.30" lengthAdjust="spacingAndGlyphs">Повече учебни часове по</text>
<text x="946.00" y="305.60" font-size="4.9" fill="#555" text-anchor="start" font-weight="normal" textLength="32.30" lengthAdjust="spacingAndGlyphs">дисциплината</text>
<rect x="979.50" y="318.95" width="91.95" height="16.30" fill="#673ab7"/>
<line x1="1071.45" y1="327.10" x2="1075.95" y2="327.10" stroke="#666" stroke-width="0.4"/>
<text x="1076.25" y="328.80" font-size="5.2" fill="#333" text-anchor="start" font-weight="normal" textLength="22.90" lengthAdjust="spacingAndGlyphs">15 (29,4%)</text>
<text x="911.50" y="325.70" font-size="4.9" fill="#555" text-anchor="start" font-weight="normal" textLength="66.80" lengthAdjust="spacingAndGlyphs">Нямам нужда от допълнителни</text>
<text x="960.10" y="331.80" font-size="4.9" fill="#555" text-anchor="start" font-weight="normal" textLength="18.20" lengthAdjust="spacingAndGlyphs">ресурси</text>
<line x1="979.50" y1="261.25" x2="979.50" y2="340.00" stroke="#aaa" stroke-width="0.6"/>
<text x="979.50" y="347.00" font-size="4.8" fill="#555" text-anchor="middle" font-weight="normal">0</text>
<text x="1040.80" y="347.00" font-size="4.8" fill="#555" text-anchor="middle" font-weight="normal">10</text>
<text x="1102.10" y="347.00" font-size="4.8" fill="#555" text-anchor="middle" font-weight="normal">20</text>
<text x="1163.40" y="347.00" font-size="4.8" fill="#555" text-anchor="middle" font-weight="normal">30</text>
<text x="993.75" y="372.50" font-size="9.12" fill="#000" text-anchor="start" font-weight="normal" textLength="78.25" lengthAdjust="spacingAndGlyphs" stroke="#000" stroke-width="0.08">Фиг. 6. Въпрос №6</text>
<text x="920.00" y="396.25" font-size="7.4" fill="#1a1a1a" text-anchor="start" font-weight="normal" textLength="185.50" lengthAdjust="spacingAndGlyphs">Разбрахте ли какво е arcmap и за какво се използва?</text>
<text x="920.00" y="405.75" font-size="6.0" fill="#333333" text-anchor="start" font-weight="normal" textLength="31.25" lengthAdjust="spacingAndGlyphs">51 отговора</text>
<path d="M1022.50,468.75 L1065.10,468.75 A42.60,45.60 0 1 1 979.98,465.89 Z" fill="#3366cc" stroke="#fff" stroke-width="0.6" stroke-linejoin="round"/>
<path d="M1022.50,468.75 L979.98,465.89 A42.60,45.60 0 0 1 1050.27,434.17 Z" fill="#dc3912" stroke="#fff" stroke-width="0.6" stroke-linejoin="round"/>
<path d="M1022.50,468.75 L1050.27,434.17 A42.60,45.60 0 0 1 1065.10,468.75 Z" fill="#ff9900" stroke="#fff" stroke-width="0.6" stroke-linejoin="round"/>
<text x="1010.00" y="442.00" font-size="5.4" fill="#fff" text-anchor="middle" font-weight="normal" textLength="16.00" lengthAdjust="spacingAndGlyphs">35,3%</text>
<text x="1046.25" y="459.00" font-size="5.4" fill="#fff" text-anchor="middle" font-weight="normal" textLength="16.00" lengthAdjust="spacingAndGlyphs">13,7%</text>
<text x="1020.00" y="507.50" font-size="5.4" fill="#fff" text-anchor="middle" font-weight="normal" textLength="10.00" lengthAdjust="spacingAndGlyphs">51%</text>
<circle cx="1129.00" cy="426.40" r="2.9" fill="#3366cc"/>
<text x="1133.75" y="428.60" font-size="6.2" fill="#222" text-anchor="start" font-weight="normal" textLength="8.00" lengthAdjust="spacingAndGlyphs">Да</text>
<circle cx="1129.00" cy="436.20" r="2.9" fill="#dc3912"/>
<text x="1133.75" y="438.40" font-size="6.2" fill="#222" text-anchor="start" font-weight="normal" textLength="8.50" lengthAdjust="spacingAndGlyphs">Не</text>
<circle cx="1129.00" cy="446.00" r="2.9" fill="#ff9900"/>
<text x="1133.75" y="448.20" font-size="6.2" fill="#222" text-anchor="start" font-weight="normal" textLength="23.75" lengthAdjust="spacingAndGlyphs">Може би</text>
<text x="993.75" y="543.00" font-size="9.12" fill="#000" text-anchor="start" font-weight="normal" textLength="78.25" lengthAdjust="spacingAndGlyphs" stroke="#000" stroke-width="0.08">Фиг. 7. Въпрос №7</text>
<text x="916.80" y="571.70" font-size="6.5" fill="#1a1a1a" text-anchor="start" font-weight="normal" textLength="238.80" lengthAdjust="spacingAndGlyphs">Колко интересна Ви беше Геодезията? (1-напълно безинтересна, 5-много интересна)</text>
<text x="916.80" y="579.00" font-size="4.6" fill="#333333" text-anchor="start" font-weight="normal" textLength="25.40" lengthAdjust="spacingAndGlyphs">51 отговора</text>
<line x1="935.00" y1="637.77" x2="1181.00" y2="637.77" stroke="#e6e6e6" stroke-width="0.5"/>
<line x1="935.00" y1="615.14" x2="1181.00" y2="615.14" stroke="#e6e6e6" stroke-width="0.5"/>
<line x1="935.00" y1="592.51" x2="1181.00" y2="592.51" stroke="#e6e6e6" stroke-width="0.5"/>
<line x1="935.00" y1="649.08" x2="1181.00" y2="649.08" stroke="#f3f3f3" stroke-width="0.5"/>
<line x1="935.00" y1="626.45" x2="1181.00" y2="626.45" stroke="#f3f3f3" stroke-width="0.5"/>
<line x1="935.00" y1="603.82" x2="1181.00" y2="603.82" stroke="#f3f3f3" stroke-width="0.5"/>
<text x="931.80" y="662.20" font-size="4.8" fill="#555" text-anchor="end" font-weight="normal">0</text>
<text x="931.80" y="639.57" font-size="4.8" fill="#555" text-anchor="end" font-weight="normal">10</text>
<text x="931.80" y="616.94" font-size="4.8" fill="#555" text-anchor="end" font-weight="normal">20</text>
<text x="931.80" y="594.31" font-size="4.8" fill="#555" text-anchor="end" font-weight="normal">30</text>
<rect x="945.10" y="655.87" width="30.00" height="4.53" fill="#673ab7"/>
<text x="951.60" y="651.20" font-size="5.0" fill="#333" text-anchor="start" font-weight="normal" textLength="17.00" lengthAdjust="spacingAndGlyphs">2 (3,9%)</text>
<text x="960.10" y="667.50" font-size="5.0" fill="#555" text-anchor="middle" font-weight="normal">1</text>
<rect x="994.20" y="651.35" width="30.70" height="9.05" fill="#673ab7"/>
<text x="1001.05" y="656.35" font-size="5.0" fill="#fff" text-anchor="start" font-weight="normal" textLength="17.00" lengthAdjust="spacingAndGlyphs">4 (7,8%)</text>
<text x="1009.55" y="667.50" font-size="5.0" fill="#555" text-anchor="middle" font-weight="normal">2</text>
<rect x="1043.40" y="640.03" width="30.50" height="20.37" fill="#673ab7"/>
<text x="1050.15" y="645.03" font-size="5.0" fill="#fff" text-anchor="start" font-weight="normal" textLength="17.00" lengthAdjust="spacingAndGlyphs">9 (17,6%)</text>
<text x="1058.65" y="667.50" font-size="5.0" fill="#555" text-anchor="middle" font-weight="normal">3</text>
<rect x="1092.60" y="594.77" width="30.40" height="65.63" fill="#673ab7"/>
<text x="1096.65" y="599.77" font-size="5.0" fill="#fff" text-anchor="start" font-weight="normal" textLength="22.30" lengthAdjust="spacingAndGlyphs">29 (56,9%)</text>
<text x="1107.80" y="667.50" font-size="5.0" fill="#555" text-anchor="middle" font-weight="normal">4</text>
<rect x="1142.10" y="644.56" width="30.10" height="15.84" fill="#673ab7"/>
<text x="1148.65" y="649.56" font-size="5.0" fill="#fff" text-anchor="start" font-weight="normal" textLength="17.00" lengthAdjust="spacingAndGlyphs">7 (13,7%)</text>
<text x="1157.15" y="667.50" font-size="5.0" fill="#555" text-anchor="middle" font-weight="normal">5</text>
<line x1="935.20" y1="660.40" x2="1181.90" y2="660.40" stroke="#333" stroke-width="0.6"/>
<text x="993.30" y="699.00" font-size="9.12" fill="#000" text-anchor="start" font-weight="normal" textLength="79.00" lengthAdjust="spacingAndGlyphs" stroke="#000" stroke-width="0.08">Фиг. 8. Въпрос №8</text></svg>
</body></html>
